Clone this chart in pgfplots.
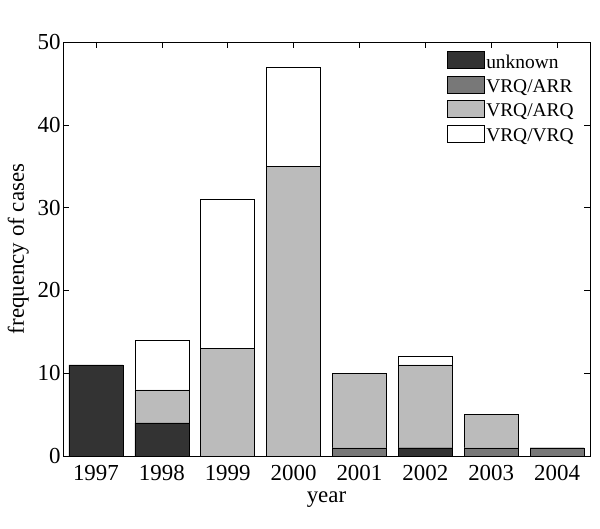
\documentclass[border=0pt]{standalone}
\usepackage{pgfplots}
\pgfplotsset{compat=1.18}
\usepackage{fontspec}
\setmainfont{Liberation Serif}
\definecolor{cunk}{HTML}{333333}
\definecolor{carr}{HTML}{787878}
\definecolor{carq}{HTML}{BBBBBB}
\begin{document}
\begin{tikzpicture}
\begin{axis}[
  name=ax,
  scale only axis,
  width=527bp, height=414bp,
  ybar stacked,
  bar width=0.82,
  xmin=0.5, xmax=8.5,
  ymin=0, ymax=50,
  xtick={1,2,3,4,5,6,7,8},
  xticklabels={1997,1998,1999,2000,2001,2002,2003,2004},
  ytick={0,10,20,30,40,50},
  tick align=inside,
  major tick length=6bp,
  tick style={black, line width=0.5pt},
  axis line style={black, line width=0.6pt},
  /pgf/number format/assume math mode=true,
  ticklabel style={font=\fontsize{23}{25}\selectfont},
  xticklabel style={yshift=-6bp},
  yticklabel style={xshift=1bp},
  xlabel={year},
  ylabel={frequency of cases},
  label style={font=\fontsize{23}{25}\selectfont},
  xlabel style={yshift=-4bp},
  ylabel style={yshift=2bp},
  legend style={draw=none, fill=none, at={(0.728,0.978)}, anchor=north west,
    inner sep=0pt, font=\fontsize{19.5}{22}\selectfont, row sep=4.5bp,
    legend cell align=left},
  legend image code/.code={\draw[#1, draw=black] (0bp,-6.5bp) rectangle (37bp,10.5bp);},
]
\addplot[fill=cunk, draw=black] coordinates {(1,11) (2,4) (3,0) (4,0) (5,0) (6,1) (7,0) (8,0)};
\addplot[fill=carr, draw=black] coordinates {(1,0) (2,0) (3,0) (4,0) (5,1) (6,0) (7,1) (8,1)};
\addplot[fill=carq, draw=black] coordinates {(1,0) (2,4) (3,13) (4,35) (5,9) (6,10) (7,4) (8,0)};
\addplot[fill=white, draw=black] coordinates {(1,0) (2,6) (3,18) (4,12) (5,0) (6,1) (7,0) (8,0)};
\legend{unknown, VRQ/ARR, VRQ/ARQ, VRQ/VRQ}
\end{axis}
\pgfresetboundingbox
\path[use as bounding box] ([shift={(-63bp,-72bp)}]ax.south west) rectangle ([shift={(10bp,42bp)}]ax.north east);
\end{tikzpicture}
\end{document}
